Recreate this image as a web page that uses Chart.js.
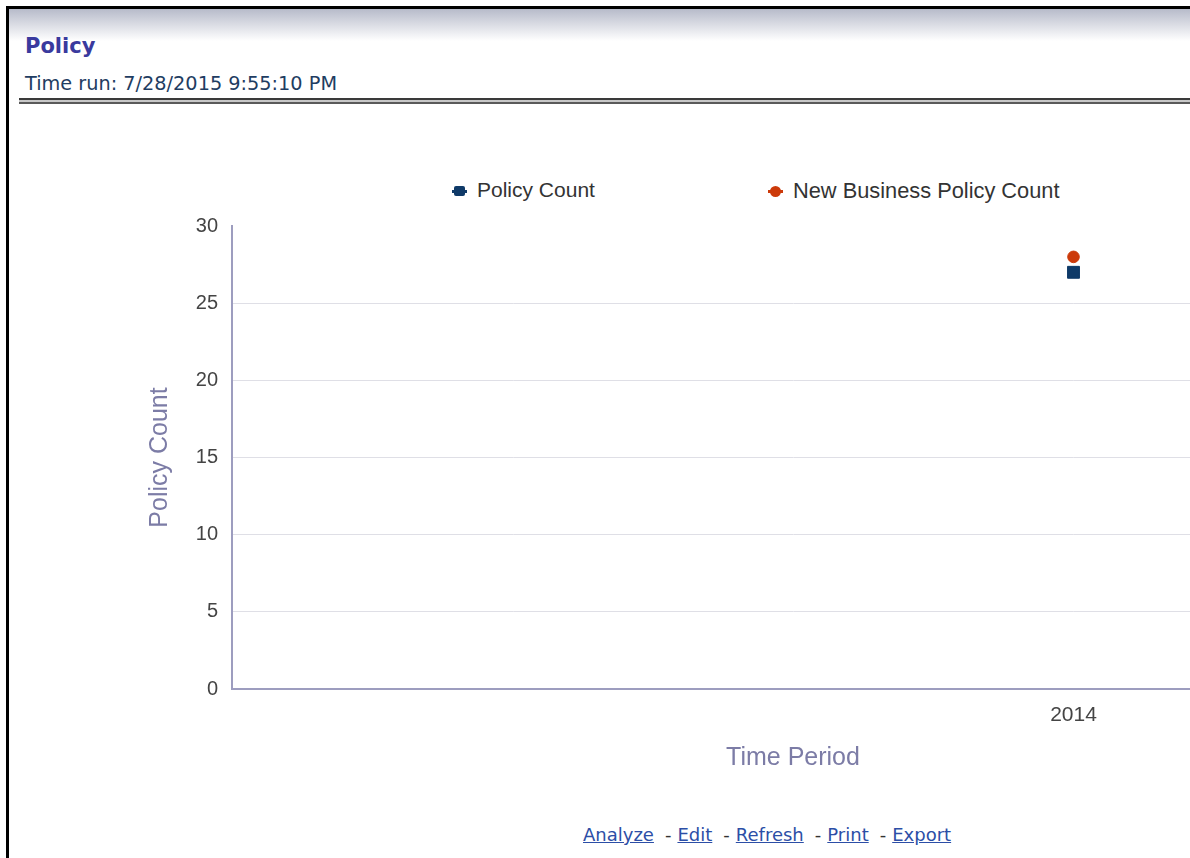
<!DOCTYPE html>
<html>
<head>
<meta charset="utf-8">
<script src="https://cdn.jsdelivr.net/npm/chart.js@4"></script>
<style>
  html, body { margin: 0; padding: 0; background: #fff; overflow: hidden; }
  body { width: 1190px; height: 858px; position: relative; }
  .frame { position: absolute; left: 6px; top: 6px; width: 1200px; height: 849px;
    border-left: 3px solid #000; border-top: 3px solid #000; border-bottom: 2px solid #d6d8e0; }
  .head-bg { position: absolute; left: 9px; top: 9px; width: 1190px; height: 32px;
    background: linear-gradient(#b7bbca, #ffffff); }
  .title { position: absolute; left: 25px; top: 34px; font: bold 21px "DejaVu Sans", sans-serif; color: #3a3a9e; }
  .run { position: absolute; left: 25px; top: 72px; font: 19.3px "DejaVu Sans", sans-serif; color: #1f3d62; }
  .rule { position: absolute; left: 19px; top: 98px; width: 1180px; height: 2px; background: #3a3a3a;
    box-shadow: 0 4px 0 #5a5a5a; }
  .rule2 { position: absolute; left: 19px; top: 100px; width: 1180px; height: 2px; background: #c8c8c8; }
  #chartBox { position: absolute; left: 130px; top: 120px; }
  .legend { position: absolute; top: 178px; font: 21px "Liberation Sans", Arial, sans-serif; color: #333; white-space: nowrap; }
  .legend .mk { position: absolute; top: 8px; }
  .links { position: absolute; left: 583px; top: 824px; font: 18px "DejaVu Sans", sans-serif; color: #333; white-space: nowrap; }
  .links a { color: #2c4ea6; text-decoration: underline; }
  .links .sep { display: inline-block; margin: 0 6px 0 11px; }
</style>
</head>
<body>
<div class="frame"></div>
<div class="head-bg"></div>
<div class="title">Policy</div>
<div class="run">Time run: 7/28/2015 9:55:10 PM</div>
<div class="rule2"></div>
<div class="rule"></div>
<div id="legend"></div>
<div id="chartBox"><canvas id="chart" width="1236" height="680"></canvas></div>
<div class="links"><a>Analyze</a><span class="sep">-</span><a>Edit</a><span class="sep">-</span><a>Refresh</a><span class="sep">-</span><a>Print</a><span class="sep">-</span><a>Export</a></div>

<script>
// chart data
const periods = ['', '2014'];
const seriesNames = ['Policy Count', 'New Business Policy Count'];
const policyCount = [null, 27];
const newBusinessCount = [null, 28];
const yTicks = [0, 5, 10, 15, 20, 25, 30];

const navy = '#0f3a68';
const orange = '#cc3a0a';

// legend drawn as html so it can sit where the original has it
const legend = document.getElementById('legend');
const legendPos = [
  { left: 452, color: navy, round: false, size: 21 },
  { left: 768, color: orange, round: true, size: 21.8 },
];
legend.innerHTML = seriesNames.map((name, i) => {
  const p = legendPos[i];
  const shape = p.round
    ? `<span style="position:absolute;left:2px;top:0;width:11px;height:11px;border-radius:50%;background:${p.color}"></span>`
    : `<span style="position:absolute;left:2px;top:0;width:11px;height:10px;border-radius:2px;background:${p.color}"></span>`;
  return `<div class="legend" style="left:${p.left}px;font-size:${p.size}px">
      <span class="mk" style="left:0;width:15px;height:11px">
        <span style="position:absolute;left:0;top:4px;width:15px;height:3px;background:${p.color}"></span>${shape}
      </span>
      <span style="margin-left:25px">${name}</span>
    </div>`;
}).join('');

new Chart(document.getElementById('chart').getContext('2d'), {
  type: 'line',
  data: {
    labels: periods,
    datasets: [
      {
        label: seriesNames[0], data: policyCount, showLine: false,
        pointStyle: 'rect', pointRadius: 8.4, pointBackgroundColor: navy,
        pointBorderColor: navy, pointBorderWidth: 1,
      },
      {
        label: seriesNames[1], data: newBusinessCount, showLine: false,
        pointStyle: 'circle', pointRadius: 5.8, pointBackgroundColor: orange,
        pointBorderColor: orange, pointBorderWidth: 1,
      },
    ],
  },
  options: {
    responsive: false,
    animation: false,
    layout: { padding: { top: 106, right: 12, bottom: 11, left: 0 } },
    plugins: { legend: { display: false }, tooltip: { enabled: false } },
    scales: {
      x: {
        offset: true,
        grid: { display: false, drawTicks: false },
        border: { color: '#9d9dbf', width: 2 },
        ticks: { color: '#444', padding: 14, font: { family: 'Liberation Sans', size: 21 } },
        title: {
          display: true, text: 'Time Period', color: '#7c7ca6',
          font: { family: 'Liberation Sans', size: 25 }, padding: { top: 0, bottom: 16 },
        },
        afterFit: s => { s.height = 100; },
      },
      y: {
        min: 0, max: 30,
        afterBuildTicks: s => { s.ticks = yTicks.map(v => ({ value: v })); },
        grid: {
          drawTicks: false,
          color: c => (c.tick && c.tick.value === 30 ? 'rgba(0,0,0,0)' : '#dfdfe6'),
        },
        border: { color: '#9d9dbf', width: 2 },
        ticks: { color: '#444', padding: 14, font: { family: 'Liberation Sans', size: 20 } },
        title: {
          display: true, text: 'Policy Count', color: '#7c7ca6',
          font: { family: 'Liberation Sans', size: 25 }, padding: { top: 15, bottom: 0 },
        },
        afterFit: s => { s.width = 102; },
      },
    },
  },
});
</script>
</body>
</html>
